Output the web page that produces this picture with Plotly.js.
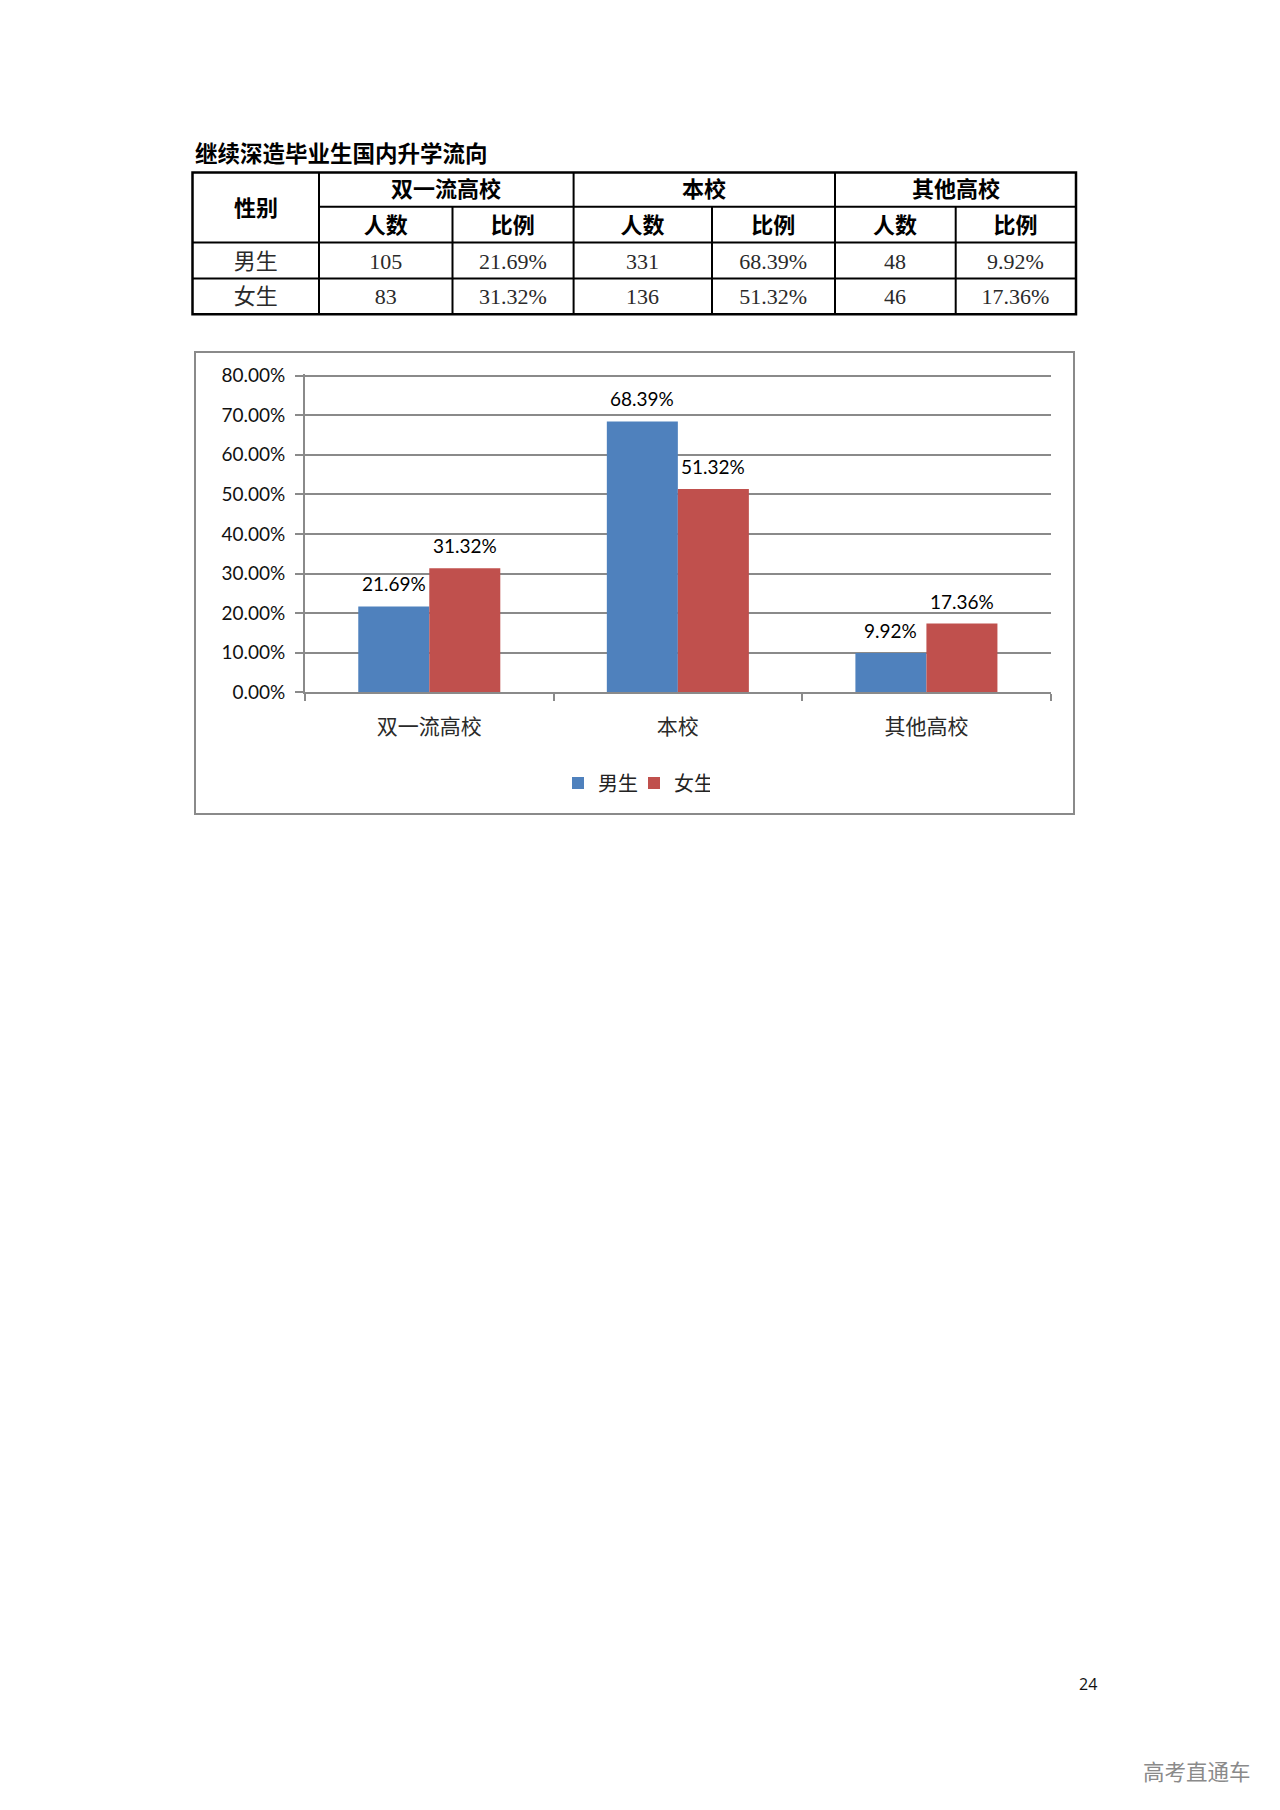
<!DOCTYPE html>
<html>
<head>
<meta charset="utf-8">
<script src="https://cdn.plot.ly/plotly-3.0.1.min.js"></script>
<style>
  html, body { margin: 0; padding: 0; background: #fff; }
  #chart { width: 1280px; height: 1810px; }
</style>
</head>
<body>
<div id="chart"></div>
<script>
// ---------- data ----------
const tableTitle = '继续深造毕业生国内升学流向';
const categories = ['双一流高校', '本校', '其他高校'];
const genders = ['男生', '女生'];
const maleCounts = [105, 331, 48];
const femaleCounts = [83, 136, 46];
const maleShare = [0.2169, 0.6839, 0.0992];
const femaleShare = [0.3132, 0.5132, 0.1736];
const genderHeader = '性别';
const subHeaders = ['人数', '比例'];
const pageNumber = '24';
const watermark = '高考直通车';

// ---------- layout helpers (page pixels -> paper fraction) ----------
const W = 1280, H = 1810;
const px = x => x / W;
const py = y => 1 - y / H;

const blue = '#4F81BD', red = '#C0504D';
const grey = '#8a8a8a';
const cjk = "'Noto Sans CJK SC'";
const sans = "Lato, 'Noto Sans CJK SC', sans-serif";
const serif = "'Liberation Serif', 'Noto Sans CJK SC', serif";

// table geometry
const colEdges = [192.5, 319, 452.5, 573.6, 712, 835, 955.7, 1076];
const rowEdges = [172.5, 206.8, 242.5, 278.5, 314.2];
const colWidths = colEdges.slice(1).map((e, i) => e - colEdges[i]);

// chart geometry
const plotLeft = 305, plotRight = 1050.7, plotBottom = 692.3, plotTop80 = 375.5;
const yMax = 0.805;
const plotTop = plotBottom - (plotBottom - plotTop80) * (yMax / 0.8);
const bargap = 0.4286;
const barHalfPx = (plotRight - plotLeft) / categories.length * (1 - bargap) / 4;

const pct = v => (v * 100).toFixed(2) + '%';

// ---------- traces ----------
const barMale = {
  type: 'bar', name: genders[0], x: categories, y: maleShare,
  marker: { color: blue }, hoverinfo: 'skip'
};
const barFemale = {
  type: 'bar', name: genders[1], x: categories, y: femaleShare,
  marker: { color: red }, hoverinfo: 'skip'
};

const tableHeaderVals = [''];
categories.forEach(() => { tableHeaderVals.push(subHeaders[0], subHeaders[1]); });
const tableCols = [genders];
categories.forEach((c, i) => {
  tableCols.push([maleCounts[i], femaleCounts[i]].map(String));
  tableCols.push([pct(maleShare[i]), pct(femaleShare[i])]);
});

const table = {
  type: 'table',
  domain: { x: [px(colEdges[0]), px(colEdges[7])], y: [py(rowEdges[4] + 1.5), py(rowEdges[1] + 1.5)] },
  columnwidth: colWidths,
  header: {
    values: tableHeaderVals,
    height: rowEdges[2] - rowEdges[1],
    align: 'center',
    line: { color: 'rgba(0,0,0,0)', width: 0 },
    fill: { color: 'rgba(0,0,0,0)' },
    font: { family: cjk, size: 22, color: '#000', weight: 700 }
  },
  cells: {
    values: tableCols,
    height: rowEdges[3] - rowEdges[2] - 0.5,
    align: 'center',
    line: { color: 'rgba(0,0,0,0)', width: 0 },
    fill: { color: 'rgba(0,0,0,0)' },
    font: { family: serif, size: 22, color: '#2a2a2a' }
  },
  hoverinfo: 'skip'
};

// ---------- shapes ----------
const shapes = [];
const lineBlk = { color: '#000', width: 2 };
shapes.push({ type: 'rect', xref: 'paper', yref: 'paper',
  x0: px(colEdges[0]), x1: px(colEdges[7]), y0: py(rowEdges[0]), y1: py(rowEdges[4]),
  line: { color: '#000', width: 2.5 } });
shapes.push({ type: 'line', xref: 'paper', yref: 'paper',
  x0: px(colEdges[1]), x1: px(colEdges[7]), y0: py(rowEdges[1]), y1: py(rowEdges[1]), line: lineBlk });
[2, 3].forEach(r => shapes.push({ type: 'line', xref: 'paper', yref: 'paper',
  x0: px(colEdges[0]), x1: px(colEdges[7]), y0: py(rowEdges[r]), y1: py(rowEdges[r]), line: lineBlk }));
[1, 3, 5].forEach(c => shapes.push({ type: 'line', xref: 'paper', yref: 'paper',
  x0: px(colEdges[c]), x1: px(colEdges[c]), y0: py(rowEdges[0]), y1: py(rowEdges[4]), line: lineBlk }));
[2, 4, 6].forEach(c => shapes.push({ type: 'line', xref: 'paper', yref: 'paper',
  x0: px(colEdges[c]), x1: px(colEdges[c]), y0: py(rowEdges[1]), y1: py(rowEdges[4]), line: lineBlk }));
shapes.push({ type: 'rect', xref: 'paper', yref: 'paper',
  x0: px(195), x1: px(1074), y0: py(352), y1: py(814),
  line: { color: grey, width: 2 }, layer: 'below' });

// ---------- annotations ----------
const annotations = [];
annotations.push({ text: tableTitle, xref: 'paper', yref: 'paper', x: px(193), y: py(152),
  xanchor: 'left', yanchor: 'middle', showarrow: false,
  font: { family: cjk, size: 22.5, color: '#000', weight: 700 } });
annotations.push({ text: genderHeader, xref: 'paper', yref: 'paper',
  x: px((colEdges[0] + colEdges[1]) / 2), y: py(206), xanchor: 'center', yanchor: 'middle',
  showarrow: false, font: { family: cjk, size: 22, color: '#000', weight: 700 } });
categories.forEach((c, i) => {
  const xl = colEdges[1 + 2 * i], xr = colEdges[3 + 2 * i];
  annotations.push({ text: c, xref: 'paper', yref: 'paper',
    x: px((xl + xr) / 2), y: py((rowEdges[0] + rowEdges[1]) / 2 - 2.5), xanchor: 'center', yanchor: 'middle',
    showarrow: false, font: { family: cjk, size: 22, color: '#000', weight: 700 } });
});
// bar value labels, placed through the axes
categories.forEach((c, i) => {
  [[maleShare[i], -barHalfPx], [femaleShare[i], barHalfPx]].forEach(([v, dx]) => {
    annotations.push({ text: pct(v), xref: 'x', yref: 'y', x: c, y: v,
      xshift: dx, yshift: 9, xanchor: 'center', yanchor: 'bottom', showarrow: false,
      font: { family: sans, size: 19, color: '#000' } });
  });
});
annotations.push({ text: pageNumber, xref: 'paper', yref: 'paper', x: px(1088), y: py(1684),
  xanchor: 'center', yanchor: 'middle', showarrow: false,
  font: { family: "'Open Sans', sans-serif", size: 16, color: '#111' } });
annotations.push({ text: watermark, xref: 'paper', yref: 'paper', x: px(1197), y: py(1770),
  xanchor: 'center', yanchor: 'middle', showarrow: false,
  font: { family: cjk, size: 21.5, color: '#8a8a8a' } });

// ---------- layout ----------
const layout = {
  width: W, height: H,
  margin: { l: 0, r: 0, t: 0, b: 0, pad: 0 },
  paper_bgcolor: '#fff', plot_bgcolor: '#fff',
  showlegend: true,
  barmode: 'group', bargap: bargap, bargroupgap: 0,
  xaxis: {
    domain: [px(plotLeft), px(plotRight)], type: 'category', anchor: 'y',
    showline: true, linecolor: grey, linewidth: 2,
    ticks: 'outside', tickson: 'boundaries', ticklen: 7, tickcolor: grey, tickwidth: 2,
    showgrid: false, zeroline: false, fixedrange: true,
    tickfont: { family: cjk, size: 21, color: '#2a2a2a' },
    ticklabelstandoff: 14
  },
  yaxis: {
    domain: [py(plotBottom), py(plotTop)], anchor: 'x',
    range: [0, yMax], dtick: 0.1, tick0: 0, tickformat: '.2%',
    showline: true, linecolor: grey, linewidth: 2,
    ticks: 'outside', ticklen: 8, tickcolor: grey, tickwidth: 2,
    showgrid: true, gridcolor: grey, gridwidth: 2, zeroline: false, fixedrange: true,
    tickfont: { family: sans, size: 19, color: '#111' },
    ticklabelstandoff: 6
  },
  legend: {
    orientation: 'h', x: px(634), y: py(783), xanchor: 'center', yanchor: 'middle',
    entrywidth: 31, entrywidthmode: 'pixels',
    font: { family: cjk, size: 20, color: '#222' }, bgcolor: 'rgba(0,0,0,0)',
    itemclick: false, itemdoubleclick: false
  },
  shapes: shapes,
  annotations: annotations
};

Plotly.newPlot('chart', [barMale, barFemale, table], layout, { staticPlot: true, displayModeBar: false });
</script>
</body>
</html>
